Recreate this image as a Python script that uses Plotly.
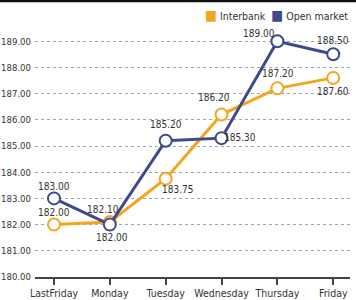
import plotly.graph_objects as go

days = ["LastFriday", "Monday", "Tuesday", "Wednesday", "Thursday", "Friday"]
interbank = [182.00, 182.10, 183.75, 186.20, 187.20, 187.60]
open_market = [183.00, 182.00, 185.20, 185.30, 189.00, 188.50]
y_ticks = [180, 181, 182, 183, 184, 185, 186, 187, 188, 189]
series_names = ["Interbank", "Open market"]

orange = "#F4A51F"
navy = "#3E4A8A"
font = "DejaVu Sans Condensed, Liberation Sans, sans-serif"

# label offsets (pixels) relative to each point
ib_shift = [(0, 12), (-7, 12), (12, -11), (-8, 17), (1, 15), (0, -14)]
om_shift = [(0, 12), (2, -13), (0, 16), (18, 1), (-18, 8), (0, 14)]

x_idx = list(range(len(days)))

fig = go.Figure()
for name, vals, col in ((series_names[0], interbank, orange), (series_names[1], open_market, navy)):
    fig.add_trace(go.Scatter(
        x=x_idx, y=vals, mode="lines+markers", name=name,
        line=dict(color=col, width=3),
        marker=dict(size=12, color="white", line=dict(color=col, width=2)),
        showlegend=False, cliponaxis=False,
    ))

annotations = []
for series, shifts in ((interbank, ib_shift), (open_market, om_shift)):
    for xi, v, (dx, dy) in zip(x_idx, series, shifts):
        annotations.append(dict(
            x=xi, y=v, xref="x", yref="y", text=f"{v:.2f}", showarrow=False,
            xshift=dx, yshift=dy, xanchor="center", yanchor="middle",
            font=dict(size=10, color="#333", family=font),
        ))

# compact legend as text
legend_text = (f"<span style='color:{orange};font-size:14px'>■</span> {series_names[0]}  "
               f"<span style='color:{navy};font-size:14px'>■</span> {series_names[1]}")
annotations.append(dict(
    x=1.0, y=1.0, xref="paper", yref="paper", text=legend_text, showarrow=False,
    xanchor="right", yanchor="middle", font=dict(size=10.5, color="#333", family=font),
))

fig.update_layout(
    width=356, height=300,
    margin=dict(l=35, r=6, t=15, b=23),
    paper_bgcolor="white", plot_bgcolor="white",
    font=dict(family=font, size=10, color="#333"),
    annotations=annotations,
    showlegend=False,
    xaxis=dict(
        tickmode="array", tickvals=x_idx, ticktext=days, tickangle=0,
        range=[-0.34, 5.3], showgrid=False, zeroline=False,
        showline=True, linecolor="#444", linewidth=1.5,
        ticks="outside", ticklen=6, tickcolor="#444", tickwidth=1.5,
        tickfont=dict(size=10.5, color="#333", family=font), automargin=False,
    ),
    yaxis=dict(
        range=[180, 190], tickmode="array", tickvals=y_ticks,
        ticktext=[f"{v:.2f}" for v in y_ticks],
        showgrid=True, gridcolor="#a0a4b0", griddash="dot", gridwidth=1,
        zeroline=False, showline=False, ticks="", ticklabelstandoff=3,
        tickfont=dict(size=9.5, color="#333", family=font), automargin=False,
    ),
    shapes=[dict(type="line", xref="paper", yref="paper",
                 x0=-0.2, x1=1.1, y0=1 + 14 / 262, y1=1 + 14 / 262,
                 line=dict(color="#111", width=2.5))],
)

fig.write_html("out.html")
